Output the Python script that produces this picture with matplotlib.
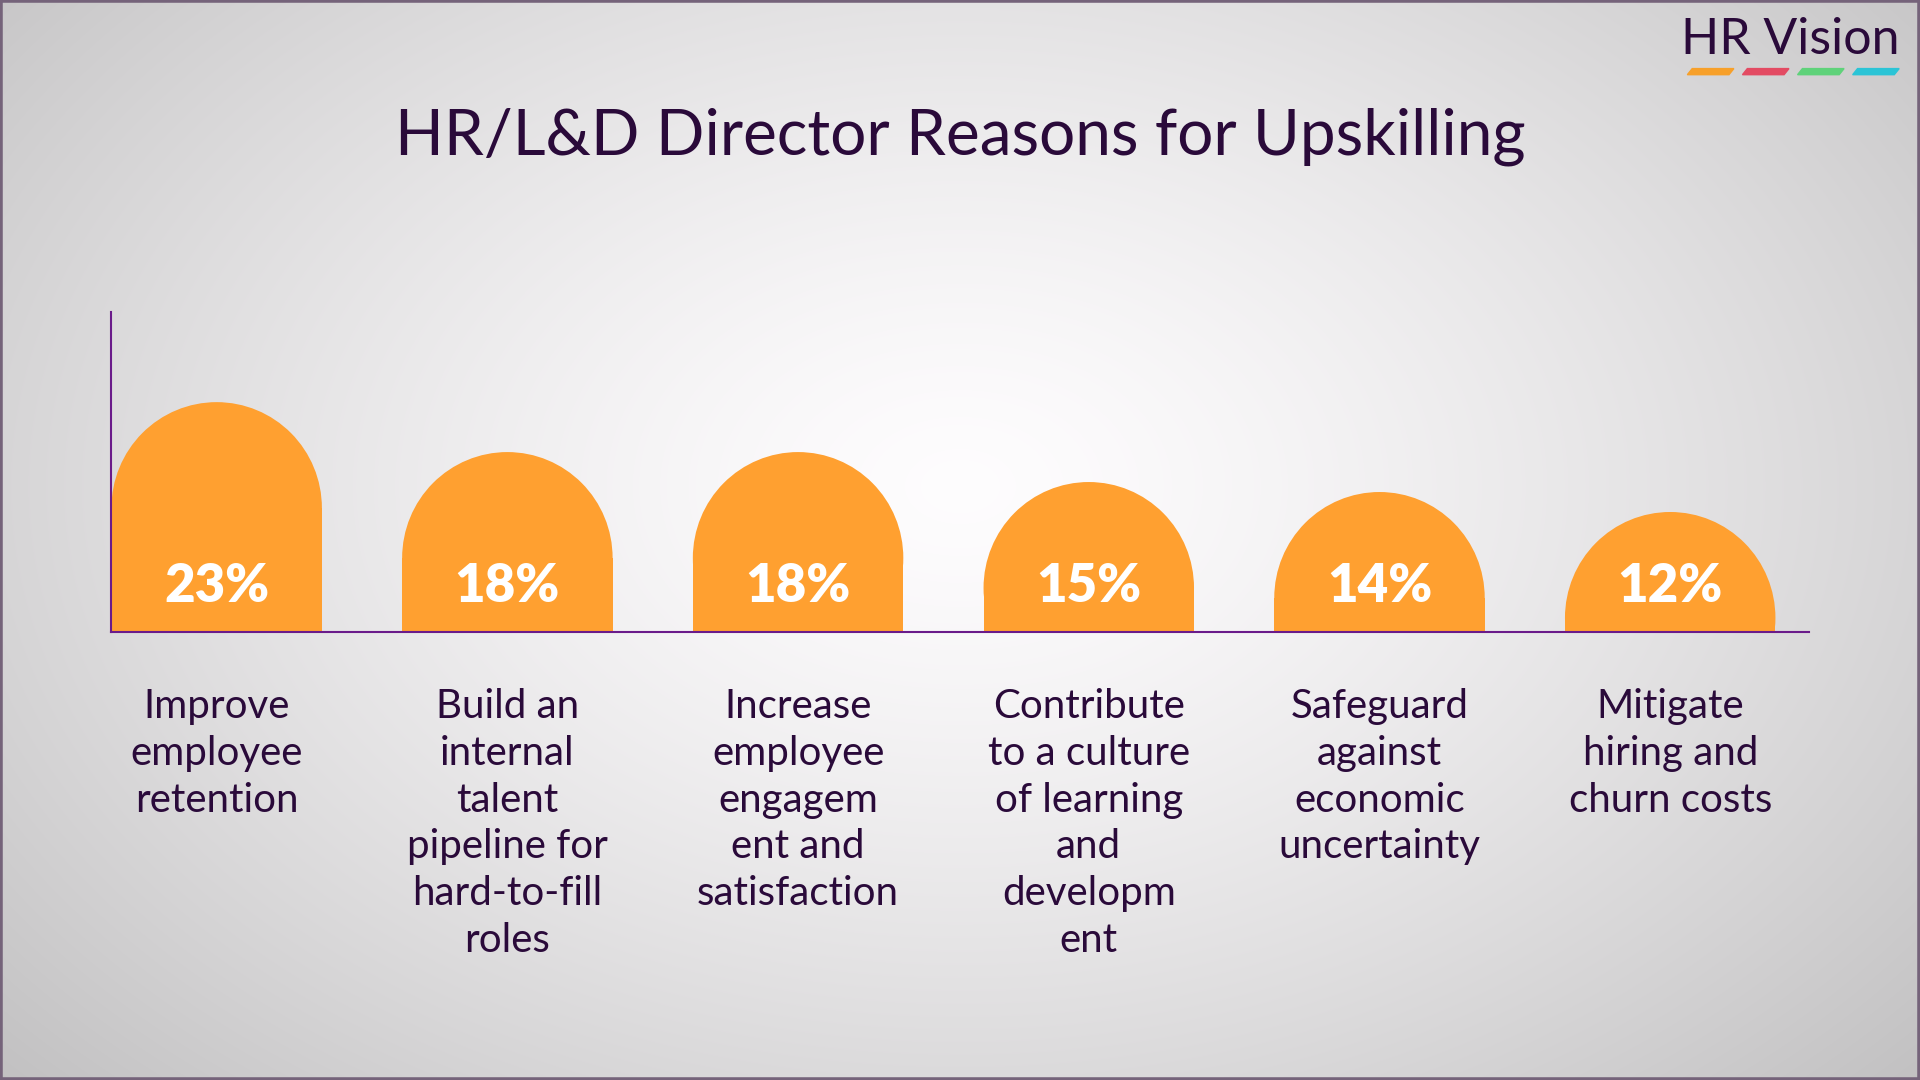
import numpy as np
import matplotlib
matplotlib.use("Agg")
import matplotlib.pyplot as plt
from matplotlib.patches import Rectangle, Ellipse, Polygon

categories = ["Improve\nemployee\nretention",
              "Build an\ninternal\ntalent\npipeline for\nhard-to-fill\nroles",
              "Increase\nemployee\nengagem\nent and\nsatisfaction",
              "Contribute\nto a culture\nof learning\nand\ndevelopm\nent",
              "Safeguard\nagainst\neconomic\nuncertainty",
              "Mitigate\nhiring and\nchurn costs"]
values = [23, 18, 18, 15, 14, 12]
title = "HR/L&D Director Reasons for Upskilling"

plt.rcParams['font.family'] = ['Lato', 'DejaVu Sans']
W, H = 1920, 1080
fig = plt.figure(figsize=(19.2, 10.8), dpi=100)

# background radial gradient
bg = fig.add_axes([0, 0, 1, 1])
yy, xx = np.mgrid[0:H, 0:W]
d = np.sqrt(((xx - W * 0.5) / (W * 0.6)) ** 2 + ((yy - H * 0.45) / (H * 0.72)) ** 2)
v = np.clip(1.0 - 0.2 * d ** 1.4, 0, 1)
img = np.dstack([v * 0.995, v * 0.99, v * 0.995])
bg.imshow(img, extent=[0, 1, 0, 1], aspect='auto', origin='upper')
bg.set_xlim(0, 1); bg.set_ylim(0, 1); bg.axis('off')
bg.add_patch(Rectangle((0, 0), 1, 1, fill=False, ec='#75637a', lw=4, transform=bg.transAxes))

purple = '#2a0a3a'
fig.text(0.5, 1 - 112 / 882, title, ha='center', va='center', fontsize=46, color=purple)
fig.text(1551 / 1568, 1 - 33 / 882, "HR Vision", ha='right', va='center', fontsize=36, color=purple)
dash_cols = ['#f7a02a', '#e34b63', '#5fd27a', '#2bc4d6']
for i, c in enumerate(dash_cols):
    x0 = (1378 + i * 45) / 1568
    y0 = 1 - 61 / 882
    y1 = 1 - 56 / 882
    bg.add_patch(Polygon([(x0, y0), (x0 + 34 / 1568, y0), (x0 + 38 / 1568, y1), (x0 + 4 / 1568, y1)],
                         closed=True, color=c, transform=bg.transAxes))

ax = fig.add_axes([91 / 1568, 1 - 516 / 882, (1477 - 91) / 1568, (516 - 255) / 882])
ax.patch.set_alpha(0)
ax.set_xlim(-0.362, 5.476)
ax.set_ylim(0, 32)
bw = 0.724
ry = 10.6
orange = '#ffa030'
for i, val in enumerate(values):
    ax.add_patch(Rectangle((i - bw / 2, 0), bw, val - ry, color=orange, lw=0))
    ax.add_patch(Ellipse((i, val - ry), bw, 2 * ry, color=orange, lw=0))
    ax.text(i, 4.5, f"{val}%", ha='center', va='center', color='white', fontsize=38, fontweight='heavy')
    ax.text(i, -5.6, categories[i], ha='center', va='top', color=purple, fontsize=29, linespacing=1.33)
for s in ['top', 'right']:
    ax.spines[s].set_visible(False)
ax.spines['left'].set_color('#6a1b8a')
ax.spines['bottom'].set_color('#6a1b8a')
ax.spines['left'].set_linewidth(1.5)
ax.spines['bottom'].set_linewidth(1.5)
ax.set_xticks([]); ax.set_yticks([])

fig.savefig("out.png", dpi=100)
